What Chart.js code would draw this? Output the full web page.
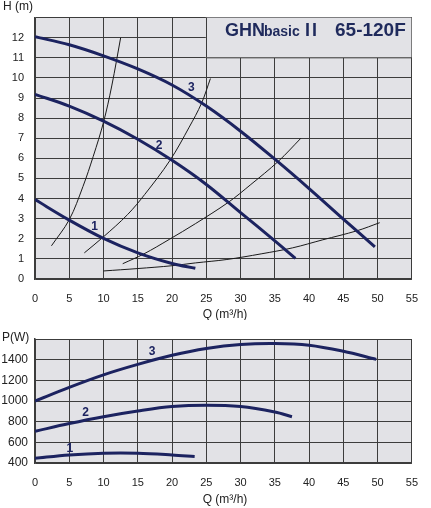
<!DOCTYPE html>
<html><head><meta charset="utf-8">
<script src="https://cdn.jsdelivr.net/npm/chart.js@4/dist/chart.umd.min.js"></script>
<style>html,body{margin:0;padding:0;background:#fff;}canvas{display:block;}</style>
</head><body>
<canvas id="top" width="431" height="320"></canvas>
<canvas id="bot" width="431" height="188"></canvas>
<script>
// ---- data ----
const headQ1=[0,5,10,15,20,23.4];
const headH1=[3.95,2.93,2.02,1.3,0.77,0.53];
const headQ2=[0,5,10,15,20,25,30,35,38];
const headH2=[9.18,8.6,7.85,6.95,5.9,4.7,3.3,1.9,1.03];
const headQ3=[0,5,10,15,20,25,30,35,40,45,49.6];
const headH3=[12.05,11.65,11.1,10.45,9.65,8.6,7.35,5.96,4.5,2.98,1.6];
const sysQA=[2.4,5,7,8.5,10,11.2,12.5];
const sysHA=[1.65,2.95,4.6,6.1,7.8,9.6,12.0];
const sysQB=[7.2,10,13.5,16,19.7,22.5,24.3,25.6];
const sysHB=[1.3,2.1,3.2,4.2,5.9,7.55,8.74,9.97];
const sysQC=[12.8,15.9,19.6,23.4,28.2,31.5,35.5,38.8];
const sysHC=[0.76,1.25,1.97,2.75,3.81,4.7,5.85,7.0];
const sysQD=[10,15,20,23.4,28,33,37.6,42,47,50.3];
const sysHD=[0.4,0.52,0.66,0.8,0.97,1.25,1.55,1.95,2.4,2.8];
const powQ1=[0,5,10,15,20,23.3];
const powP1=[446,478,495,495,478,462];
const powQ2=[0,5,10,15,20,25,30,35,37.5];
const powP2=[707,782,848,903,946,959,946,893,848];
const powQ3=[0,5,10,15,20,25,30,35,40,45,49.8];
const powP3=[1000,1132,1253,1354,1442,1508,1547,1557,1540,1481,1403];
const curveNames=['1','2','3'];
const headLabelQ=[8.7,18.1,22.8], headLabelH=[2.6,6.65,9.53];
const powLabelQ=[5.07,7.4,17.1], powLabelP=[541,884,1473];
const qMin=0,qMax=55,qStep=5;
const hMin=0,hMax=13,hStep=1,hLabelMax=12;
const pMin=400,pMax=1600,pStep=200,pLabelMax=1400;
const titleParts=['GHN','basic','II','65-120F'];
const qTitle='Q (m³/h)', hTitle='H (m)', pTitle='P(W)';

// ---- styling ----
const NAVY='#1c2360', GRID='#3c3c3c', BG='#e2e2e6', TXT='#222';
const tickFont={family:'Liberation Sans, Arial, sans-serif',size:11};
const pts=(xs,ys)=>xs.map((x,i)=>({x:x,y:ys[i]}));
const thick=(d)=>({data:d,showLine:true,borderColor:NAVY,borderWidth:3,pointRadius:0,tension:0.35,borderCapStyle:'butt',fill:false});
const thin=(d)=>({data:d,showLine:true,borderColor:'#1a1a1a',borderWidth:1,pointRadius:0,tension:0.35,fill:false});

function decoPlugin(opts){
  return {
    id:'deco'+opts.key,
    beforeDraw(chart){
      const {ctx,chartArea:a}=chart;
      ctx.save();ctx.fillStyle=BG;ctx.fillRect(a.left,a.top,a.right-a.left,a.bottom-a.top);ctx.restore();
    },
    beforeDatasetsDraw(chart){
      const {ctx}=chart;const xs=chart.scales.x, ys=chart.scales.y;
      if(opts.box){
        const x0=xs.getPixelForValue(25),x1=xs.getPixelForValue(55),y0=ys.getPixelForValue(13),y1=ys.getPixelForValue(11);
        ctx.save();ctx.fillStyle=BG;ctx.fillRect(x0-0.5,y0,x1-x0,y1-y0);
        ctx.strokeStyle=GRID;ctx.lineWidth=1;ctx.beginPath();
        ctx.moveTo(Math.round(x0)+0.5,y0);ctx.lineTo(Math.round(x0)+0.5,y1);ctx.lineTo(x1,y1);ctx.stroke();
        ctx.fillStyle='#1f2a5c';ctx.textBaseline='alphabetic';
        ctx.font='bold 18px Liberation Sans, Arial, sans-serif';ctx.fillText(titleParts[0],225,36);
        ctx.font='bold 14px Liberation Sans, Arial, sans-serif';ctx.fillText(titleParts[1],264,36);
        ctx.font='bold 18px Liberation Sans, Arial, sans-serif';ctx.letterSpacing='2px';ctx.fillText(titleParts[2],305,36);
        ctx.letterSpacing='0px';ctx.font='bold 19px Liberation Sans, Arial, sans-serif';ctx.fillText(titleParts[3],335,36);
        ctx.restore();
      }
    },
    afterDraw(chart){
      const {ctx,chartArea:a}=chart;const xs=chart.scales.x, ys=chart.scales.y;
      ctx.save();
      ctx.fillStyle=NAVY;ctx.font='bold 12px Liberation Sans, Arial, sans-serif';ctx.textAlign='center';ctx.textBaseline='middle';
      opts.lq.forEach((q,i)=>ctx.fillText(curveNames[i],xs.getPixelForValue(q),ys.getPixelForValue(opts.lv[i])));
      ctx.fillStyle=TXT;ctx.font='12px Liberation Sans, Arial, sans-serif';ctx.textAlign='center';
      ctx.fillText(qTitle,225,a.bottom+opts.qOff);
      ctx.textAlign='left';ctx.font='12px Liberation Sans, Arial, sans-serif';
      ctx.fillText(opts.yTitle,opts.yTx,opts.yTy);
      ctx.restore();
    }
  };
}

function mkScales(ymin,ymax,ystep,ylabelMax,ypad,yw,xh,xpad,yfont){
  return {
    x:{type:'linear',min:qMin,max:qMax,
      ticks:{stepSize:qStep,color:TXT,font:tickFont,padding:xpad,maxRotation:0,autoSkip:false},
      grid:{color:GRID,lineWidth:1,drawTicks:false},border:{color:GRID,width:1.5},
      afterFit(s){s.height=xh;}},
    y:{type:'linear',min:ymin,max:ymax,
      ticks:{stepSize:ystep,color:TXT,font:yfont,padding:ypad,autoSkip:false,callback:v=>v>ylabelMax?'':v},
      grid:{color:GRID,lineWidth:1,drawTicks:false},border:{color:GRID,width:1.5},
      afterFit(s){s.width=yw;}}
  };
}

new Chart(document.getElementById('top'),{
  type:'scatter',
  data:{datasets:[thick(pts(headQ1,headH1)),thick(pts(headQ2,headH2)),thick(pts(headQ3,headH3)),
    thin(pts(sysQA,sysHA)),thin(pts(sysQB,sysHB)),thin(pts(sysQC,sysHC)),thin(pts(sysQD,sysHD))]},
  options:{responsive:false,animation:false,devicePixelRatio:1,
    layout:{padding:{top:8,right:8,left:0,bottom:0}},
    plugins:{legend:{display:false},tooltip:{enabled:false}},
    scales:mkScales(hMin,hMax,hStep,hLabelMax,11,35,41,13,tickFont)},
  plugins:[decoPlugin({key:'t',box:true,lq:headLabelQ,lv:headLabelH,qOff:36,yTitle:hTitle,yTx:3,yTy:7})]
});

new Chart(document.getElementById('bot'),{
  type:'scatter',
  data:{datasets:[thick(pts(powQ1,powP1)),thick(pts(powQ2,powP2)),thick(pts(powQ3,powP3))]},
  options:{responsive:false,animation:false,devicePixelRatio:1,
    layout:{padding:{top:19,right:8,left:0,bottom:0}},
    plugins:{legend:{display:false},tooltip:{enabled:false}},
    scales:mkScales(pMin,pMax,pStep,pLabelMax,7,35,45,13,{family:'Liberation Sans, Arial, sans-serif',size:12})},
  plugins:[decoPlugin({key:'b',box:false,lq:powLabelQ,lv:powLabelP,qOff:37,yTitle:pTitle,yTx:2,yTy:18})]
});
</script>
</body></html>
